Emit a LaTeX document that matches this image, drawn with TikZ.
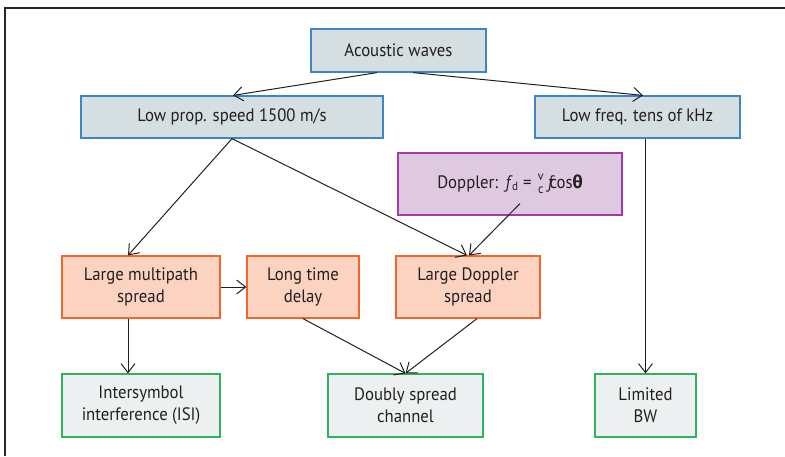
\documentclass[tikz,border=0pt]{standalone}
\usepackage{amsmath}
\usepackage{fontspec}
\setmainfont{PT Sans}[FakeStretch=0.93]
\newfontfamily\greekfont{Fira Sans}
\usetikzlibrary{arrows.meta,calc}
\definecolor{inkc}{HTML}{231F20}
\definecolor{bluefill}{HTML}{D5DEE0}
\definecolor{blueline}{HTML}{3C86C6}
\definecolor{lilacfill}{HTML}{DFC9E1}
\definecolor{lilacline}{HTML}{A33AA8}
\definecolor{peachfill}{HTML}{FBD3C0}
\definecolor{peachline}{HTML}{F2652D}
\definecolor{greyfill}{HTML}{EDF0F1}
\definecolor{greenline}{HTML}{2DB45C}
\newcommand{\smallsc}[1]{\mbox{\fontsize{13}{13}\selectfont #1}}
\tikzset{
  box/.style={draw, line width=1.2pt, align=center, text=inkc, inner sep=2pt,
    font=\fontsize{18}{22}\selectfont},
  causebox/.style={box, fill=bluefill, draw=blueline},
  formulabox/.style={box, fill=lilacfill, draw=lilacline},
  effectbox/.style={box, fill=peachfill, draw=peachline},
  resultbox/.style={box, fill=greyfill, draw=greenline},
  link/.style={draw=inkc, line width=1pt, -{Straight Barb[length=9pt,width=14pt]}}
}
\begin{document}
\begin{tikzpicture}[x=1pt, y=-1pt]
\useasboundingbox (0,0) rectangle (785,456);
% frame
\draw[line width=1.6pt, black!85] (785,8) -- (5,8) -- (5,456);

% first row
\node[causebox, minimum width=175pt, minimum height=43pt] (aw) at (398.5,50.5) {Acoustic waves};
\node[causebox, minimum width=302pt, minimum height=42pt] (lps) at (232,117) {Low prop. speed 1500 m/s};
\node[causebox, minimum width=205pt, minimum height=42pt] (lf) at (637.5,117) {Low freq. tens of kHz};

% Doppler formula
\node[formulabox, minimum width=224pt, minimum height=62pt] (dop) at (510,184)
  {Doppler:\ \,{\itshape f}\raisebox{-2.5pt}{\fontsize{12}{12}\selectfont\,d}\;=\;$\genfrac{}{}{0pt}{}{\smallsc{v}}{\smallsc{c}}$\,{\itshape f}\kern-3pt c\kern-0.5pt os{\greekfont\bfseries θ}};

% effects
\node[effectbox, minimum width=158pt, minimum height=62pt] (lms) at (141,287) {Large multipath\\spread};
\node[effectbox, minimum width=112pt, minimum height=62pt] (ltd) at (303,287) {Long time\\delay};
\node[effectbox, minimum width=144pt, minimum height=62pt] (lds) at (468,287) {Large Doppler\\spread};

% results
\node[resultbox, minimum width=158pt, minimum height=63pt] (isi) at (141,405.5) {Intersymbol\\interference (ISI)};
\node[resultbox, minimum width=155pt, minimum height=63pt] (dsc) at (405.5,405.5) {Doubly spread\\channel};
\node[resultbox, minimum width=101pt, minimum height=63pt] (lbw) at (645.5,405.5) {Limited\\BW};

% connectors
\draw[link] ($(aw.south)+(-21.5,0)$) -- ($(lps.north)+(1,0)$);
\draw[link] ($(aw.south)+(14.5,0)$) -- ($(lf.north)+(5.5,0)$);
\draw[link] (lps.south) -- ($(lms.north)+(-13,0)$);
\draw[link] (lps.south) -- ($(lds.north)+(-1,0)$);
\coordinate (dopfoot) at ($(dop.south)+(10,-12)$);
\draw[link] (dopfoot) -- ($(lds.north)+(1,0)$);
\draw[link] (lms.east) -- (ltd.west);
\draw[link] ($(lms.south)+(-13,0)$) -- ($(isi.north)+(-13,0)$);
\draw[link] (ltd.south) -- (dsc.north);
\draw[link] ($(lds.south)+(9,0)$) -- (dsc.north);
\draw[link] (lbw.north |- lf.south) -- (lbw.north);
\end{tikzpicture}
\end{document}
